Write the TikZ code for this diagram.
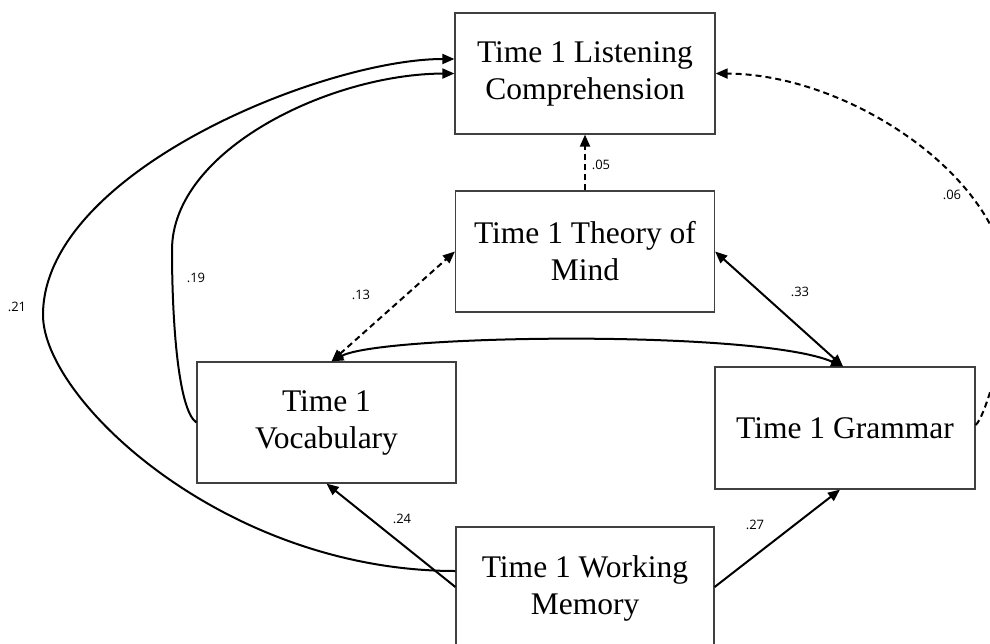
\documentclass[tikz,border=0pt]{standalone}
\usepackage{fontspec}
\setmainfont{Liberation Serif}
\newfontfamily\labelfont{Open Sans}
\usetikzlibrary{arrows.meta}
\begin{document}
\begin{tikzpicture}[x=1pt,y=-1pt,
  box/.style={draw=black!75, line width=1.2pt, inner sep=0pt, align=center,
              font=\fontsize{31.5}{37}\selectfont},
  arrow/.style={line width=2pt, -{Triangle[length=12pt,width=10pt]}},
  both/.style={line width=2pt, {Triangle[length=12pt,width=10pt]}-{Triangle[length=12pt,width=10pt]}},
  dashedline/.style={dash pattern=on 6pt off 4pt},
  coef/.style={font=\labelfont\fontsize{13}{15}\selectfont, inner sep=0pt}]
\useasboundingbox (0,0) rectangle (990,643);
\clip (0,0) rectangle (990,643);

% constructs
\node[box, minimum width=260pt, minimum height=121pt] (L) at (585,73.5) {Time 1 Listening\\Comprehension};
\node[box, minimum width=259pt, minimum height=121pt] (T) at (585,251.5) {Time 1 Theory of\\Mind};
\node[box, minimum width=259pt, minimum height=121pt] (V) at (326.5,422.5) {Time 1\\Vocabulary};
\node[box, minimum width=260pt, minimum height=122pt] (G) at (845,428) {Time 1 Grammar};
\node[box, minimum width=258pt, minimum height=122pt] (W) at (585,588) {Time 1 Working\\Memory};

% paths
\draw[arrow, dashedline] (T.north) -- (L.south);
\draw[both, dashedline] ([xshift=5pt]V.north) -- (T.west);
\draw[both] (T.east) -- ([xshift=-2pt]G.north);
\draw[both] ([xshift=5pt]V.north) .. controls +(50,-27) and +(-85,-37) .. ([xshift=-2pt]G.north);
\draw[arrow] ([yshift=1pt]W.west) -- (V.south);
\draw[arrow] ([yshift=1pt]W.east) -- ([xshift=-5pt]G.south);
\draw[arrow] ([yshift=17pt]W.west) .. controls +(-230,0) and (43,400) .. (43,315)
             .. controls (43,172) and (324,59) .. ([yshift=14.5pt]L.west);
\draw[arrow] (V.west) .. controls (178,410) and (172,320) .. (172,250)
             .. controls (172,150) and (330,74) .. (L.west);
\draw[arrow, dashedline] ([yshift=3pt]G.east) .. controls (985,418) and (1008,340) .. (1008,290)
             .. controls (1008,180) and (850,74) .. (L.east);

% coefficients
\node[coef] (c05) at (601,165) {.05};
\node[coef] (c13) at (361,295) {.13};
\node[coef] (c33) at (800,292) {.33};
\node[coef] (c21) at (17,307) {.21};
\node[coef] (c19) at (196,278) {.19};
\node[coef] (c06) at (952,195) {.06};
\node[coef] (c24) at (402,519) {.24};
\node[coef] (c27) at (755,525) {.27};
\end{tikzpicture}
\end{document}
